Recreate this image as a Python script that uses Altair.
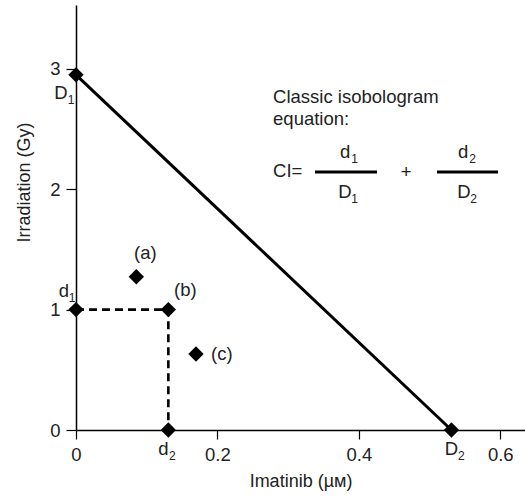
import altair as alt
import pandas as pd

# ---- data ----
iso_x = [0.0, 0.531]          # isobole: D1 (radiation alone) to D2 (imatinib alone)
iso_y = [2.95, 0.0]

dash_x = [0.0, 0.1306, 0.1306]  # d1 -> (b) -> d2
dash_y = [1.0, 1.0, 0.0]

pt_name = ["D1", "D2", "d1", "d2", "a", "b", "c"]
pt_x = [0.0, 0.531, 0.0, 0.1306, 0.0853, 0.1306, 0.1697]
pt_y = [2.95, 0.0, 1.0, 0.0, 1.273, 1.0, 0.631]

x_ticks = [0, 0.2, 0.4, 0.6]
y_ticks = [0, 1, 2, 3]

x_title = "Imatinib (\u00b5\u1d0d)"
y_title = "Irradiation (Gy)"

eq_lines = ["Classic isobologram", "equation:", "CI="]
eq_line_x = [0.2787, 0.2787, 0.2787]
eq_line_y = [2.716, 2.533, 2.101]

frac_x1 = [0.338, 0.5106]
frac_x2 = [0.4257, 0.5969]
frac_y = [2.143, 2.143]

plus_text = ["+"]
plus_x = [0.4668]
plus_y = [2.093]

eq_main = ["d", "D", "d", "D"]
eq_sub = ["1", "1", "2", "2"]
eq_mx = [0.3805, 0.3805, 0.5474, 0.5488]
eq_my = [2.259, 1.927, 2.259, 1.927]

# point labels: main text, subscript
lab_main = {"D1": "D", "D2": "D", "d1": "d", "d2": "d", "a": "(a)", "b": "(b)", "c": "(c)"}
lab_sub = {"D1": "1", "D2": "2", "d1": "1", "d2": "2"}

FONT = "Liberation Sans"
TXT = "#222222"

x_dom = [0, 0.635]
y_dom = [0, 3.53]

xs = alt.Scale(domain=x_dom, nice=False, zero=False)
ys = alt.Scale(domain=y_dom, nice=False, zero=False)

pts = pd.DataFrame({"name": pt_name, "x": pt_x, "y": pt_y})
iso = pd.DataFrame({"x": iso_x, "y": iso_y})
dsh = pd.DataFrame({"x": dash_x, "y": dash_y, "o": list(range(len(dash_x)))})

base_axes = alt.Chart(pts).mark_point(opacity=0).encode(
    x=alt.X("x:Q", scale=xs, title=x_title,
            axis=alt.Axis(values=x_ticks, format="~g", tickSize=9, labelPadding=6,
                          titlePadding=9, grid=False)),
    y=alt.Y("y:Q", scale=ys, title=y_title,
            axis=alt.Axis(values=y_ticks, format="d", tickSize=10, labelPadding=6,
                          titlePadding=16, grid=False, titleY=177)),
)

iso_line = alt.Chart(iso).mark_line(color="black", strokeWidth=3).encode(
    x=alt.X("x:Q", scale=xs), y=alt.Y("y:Q", scale=ys))

dash_line = alt.Chart(dsh).mark_line(color="black", strokeWidth=2.6, strokeDash=[8, 5]).encode(
    x=alt.X("x:Q", scale=xs), y=alt.Y("y:Q", scale=ys), order="o:Q")

points = alt.Chart(pts).mark_point(shape="diamond", filled=True, color="black",
                                   size=235, opacity=1).encode(
    x=alt.X("x:Q", scale=xs), y=alt.Y("y:Q", scale=ys))

layers = [base_axes, iso_line, dash_line, points]

def plabel(name, text, dx, dy, size, align="center", baseline="alphabetic"):
    return alt.Chart(pts).transform_filter(alt.datum.name == name).mark_text(
        text=text, dx=dx, dy=dy, fontSize=size, font=FONT, color=TXT,
        align=align, baseline=baseline).encode(
        x=alt.X("x:Q", scale=xs), y=alt.Y("y:Q", scale=ys))

MS = 18.5
SS = 12
layers += [
    plabel("D1", lab_main["D1"], -15, 24, MS), plabel("D1", lab_sub["D1"], -5, 29, SS),
    plabel("d1", lab_main["d1"], -12, -13, MS), plabel("d1", lab_sub["d1"], -4, -8, SS),
    plabel("d2", lab_main["d2"], -5, 25, MS), plabel("d2", lab_sub["d2"], 4, 30, SS),
    plabel("D2", lab_main["D2"], 0, 25, MS), plabel("D2", lab_sub["D2"], 10, 30, SS),
    plabel("a", lab_main["a"], 9, -24, MS, baseline="middle"),
    plabel("b", lab_main["b"], 17, -20, MS, baseline="middle"),
    plabel("c", lab_main["c"], 15, 0, MS, align="left", baseline="middle"),
]

eqdf = pd.DataFrame({"t": eq_lines, "x": eq_line_x, "y": eq_line_y})
layers.append(alt.Chart(eqdf).mark_text(align="left", baseline="alphabetic", fontSize=MS,
                                        font=FONT, color=TXT).encode(
    x=alt.X("x:Q", scale=xs), y=alt.Y("y:Q", scale=ys), text="t:N"))

plusdf = pd.DataFrame({"t": plus_text, "x": plus_x, "y": plus_y})
layers.append(alt.Chart(plusdf).mark_text(align="center", baseline="alphabetic", fontSize=MS,
                                          font=FONT, color=TXT).encode(
    x=alt.X("x:Q", scale=xs), y=alt.Y("y:Q", scale=ys), text="t:N"))

fracdf = pd.DataFrame({"x1": frac_x1, "x2": frac_x2, "y": frac_y})
layers.append(alt.Chart(fracdf).mark_rule(color="black", strokeWidth=3).encode(
    x=alt.X("x1:Q", scale=xs), x2="x2:Q", y=alt.Y("y:Q", scale=ys)))

emdf = pd.DataFrame({"m": eq_main, "s": eq_sub, "x": eq_mx, "y": eq_my})
layers.append(alt.Chart(emdf).mark_text(align="center", baseline="alphabetic", fontSize=MS,
                                        font=FONT, color=TXT).encode(
    x=alt.X("x:Q", scale=xs), y=alt.Y("y:Q", scale=ys), text="m:N"))
layers.append(alt.Chart(emdf).mark_text(align="center", baseline="alphabetic", fontSize=SS,
                                        font=FONT, color=TXT, dx=9.5, dy=5).encode(
    x=alt.X("x:Q", scale=xs), y=alt.Y("y:Q", scale=ys), text="s:N"))

chart = alt.layer(*layers).properties(
    width=449, height=425,
    autosize=alt.AutoSizeParams(type="none"),
    padding={"left": 76, "top": 5, "right": 0, "bottom": 66},
).configure_view(stroke=None).configure_axis(
    domainColor="black", domainWidth=1.5, tickColor="black", tickWidth=1.2,
    labelFont=FONT, labelFontSize=18.5, labelColor=TXT,
    titleFont=FONT, titleFontSize=18, titleColor=TXT, titleFontWeight="normal",
).configure_axisX(labelFlush=False)

chart.save("out.html", embed_options={"renderer": "svg", "actions": False})
